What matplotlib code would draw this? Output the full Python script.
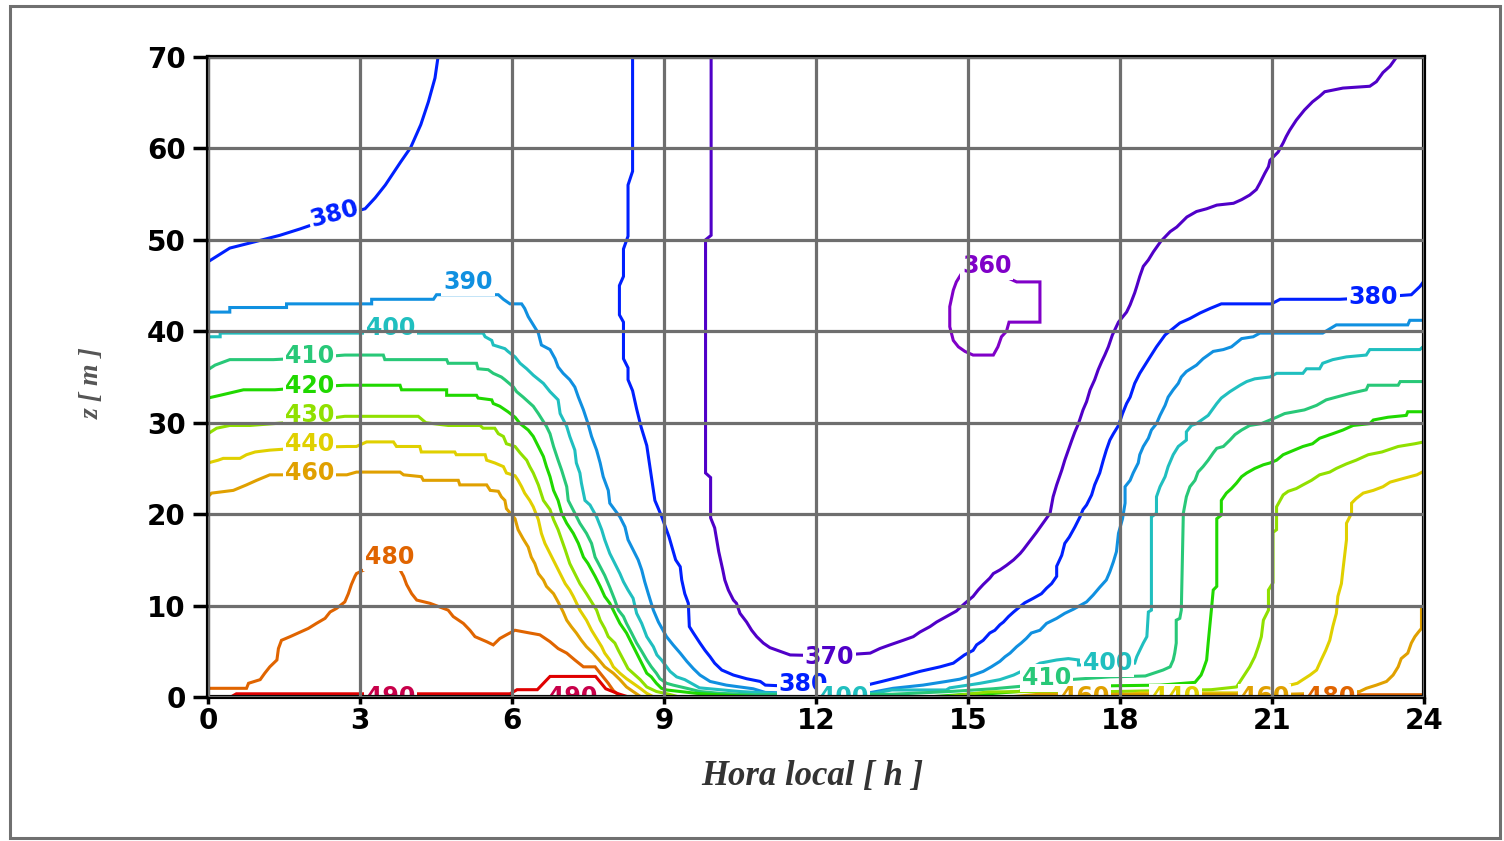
import numpy as np
import matplotlib
matplotlib.use("Agg")
import matplotlib.pyplot as plt
from matplotlib.patches import Rectangle

# ---- axes ticks -------------------------------------------------------------
hour_ticks = [0, 3, 6, 9, 12, 15, 18, 21, 24]
height_ticks = [0, 10, 20, 30, 40, 50, 60, 70]

# ---- isolines of CO2 concentration (local hour, height in m) ----------------
c360 = [(15.4, 46.8), (14.87, 46.3), (14.77, 45.4), (14.71, 44.5), (14.64, 42.7),
        (14.64, 40.5), (14.71, 39.0), (14.81, 38.3), (14.94, 37.8), (15.1, 37.4),
        (15.5, 37.4), (15.59, 38.3), (15.66, 39.4), (15.76, 40.0), (15.81, 41.0),
        (16.42, 41.0), (16.42, 45.4), (15.96, 45.4), (15.4, 46.8)]

c370 = [(9.93, 70), (9.93, 50.5), (9.82, 50.0), (9.82, 24.5), (9.92, 24.0), (9.92, 19.6),
        (10.0, 18.5), (10.08, 15.9), (10.16, 13.9), (10.2, 12.8), (10.27, 11.7),
        (10.37, 10.6), (10.43, 10.25), (10.5, 9.15), (10.63, 8.2), (10.73, 7.3),
        (10.83, 6.6), (10.96, 5.9), (11.09, 5.4), (11.29, 5.0), (11.49, 4.6),
        (12.26, 4.5), (13.07, 4.8), (13.26, 5.3), (13.46, 5.7), (13.72, 6.2),
        (13.92, 6.6), (14.05, 7.1), (14.25, 7.7), (14.38, 8.2), (14.51, 8.6),
        (14.64, 9.0), (14.77, 9.4), (14.94, 10.25), (15.1, 11.0), (15.2, 11.7),
        (15.3, 12.3), (15.43, 13.0), (15.5, 13.5), (15.63, 13.9), (15.76, 14.4),
        (15.9, 15.0), (16.03, 15.7), (16.09, 16.1), (16.35, 18.0), (16.62, 20.1),
        (16.68, 21.9), (16.75, 23.2), (16.85, 24.8), (16.91, 25.9), (16.98, 27.0),
        (17.05, 28.1), (17.11, 29.0), (17.18, 29.9), (17.27, 31.4), (17.34, 32.3),
        (17.41, 33.6), (17.5, 34.7), (17.57, 35.8), (17.64, 36.7), (17.7, 37.4),
        (17.77, 38.3), (17.85, 39.6), (17.97, 41.0), (18.13, 42.1), (18.2, 42.9),
        (18.29, 44.2), (18.33, 44.9), (18.39, 46.0), (18.46, 47.1), (18.56, 47.8),
        (18.66, 48.7), (18.8, 49.8), (18.99, 50.9), (19.12, 51.4), (19.32, 52.5),
        (19.51, 53.1), (19.71, 53.4), (19.91, 53.8), (20.24, 54.0), (20.4, 54.4),
        (20.56, 54.9), (20.69, 55.5), (20.76, 56.2), (20.86, 57.3), (20.93, 58.0),
        (20.96, 58.7), (21.12, 59.6), (21.22, 60.6), (21.28, 61.3), (21.35, 62.0),
        (21.48, 63.1), (21.64, 64.2), (21.8, 65.1), (21.94, 65.7), (22.04, 66.2),
        (22.4, 66.6), (22.93, 66.8), (23.06, 67.3), (23.19, 68.3), (23.33, 69.0),
        (23.46, 70)]

c380_morning = [(0.0, 47.6), (0.43, 49.1), (0.93, 49.8), (1.42, 50.5), (1.82, 51.2),
                (2.5, 52.5), (3.1, 53.4), (3.3, 54.6), (3.5, 56.0), (3.8, 58.5),
                (4.0, 60.1), (4.2, 62.6), (4.35, 65.1), (4.48, 67.7), (4.54, 70)]

c380_day = [(8.38, 70), (8.38, 57.5), (8.29, 56.0), (8.29, 50.4), (8.2, 49.0), (8.2, 46.0),
            (8.12, 45.0), (8.12, 41.8), (8.2, 41.0), (8.2, 37.0), (8.29, 36.0),
            (8.29, 34.7), (8.38, 33.5), (8.46, 31.5), (8.55, 29.5), (8.66, 27.5),
            (8.74, 24.5), (8.82, 21.5), (8.95, 19.8), (9.1, 17.5), (9.23, 15.0),
            (9.32, 14.25), (9.35, 12.8), (9.41, 11.3), (9.48, 10.25), (9.5, 7.7),
            (9.58, 7.0), (9.71, 5.9), (9.81, 5.1), (9.91, 4.4), (10.0, 3.7),
            (10.14, 2.95), (10.37, 2.4), (10.63, 2.0), (10.9, 1.7), (11.0, 1.3),
            (11.4, 1.2), (12.6, 1.1), (13.0, 1.3), (13.3, 1.7), (13.66, 2.2),
            (14.05, 2.8), (14.45, 3.3), (14.71, 3.7), (14.93, 4.6), (15.1, 5.1),
            (15.17, 5.7), (15.3, 6.2), (15.43, 7.0), (15.53, 7.3), (15.63, 7.9),
            (15.7, 8.2), (15.8, 8.8), (15.9, 9.3), (16.03, 9.9), (16.12, 10.3),
            (16.29, 10.8), (16.45, 11.3), (16.55, 11.9), (16.65, 12.4), (16.75, 13.2),
            (16.75, 14.3), (16.85, 15.5), (16.91, 16.8), (17.0, 17.5), (17.11, 18.6),
            (17.21, 19.7), (17.27, 20.5), (17.34, 21.0), (17.44, 22.1), (17.5, 23.2),
            (17.6, 24.5), (17.67, 25.9), (17.73, 27.0), (17.8, 28.1), (17.87, 28.8),
            (17.97, 29.7), (18.05, 31.0), (18.13, 32.1), (18.2, 32.8), (18.29, 34.3),
            (18.39, 35.4), (18.56, 36.9), (18.72, 38.3), (18.89, 39.6), (19.18, 40.9),
            (19.38, 41.4), (19.58, 42.0), (19.78, 42.5), (20.0, 43.0), (20.99, 43.0),
            (21.16, 43.5), (22.34, 43.5), (23.0, 43.7), (23.75, 44.0), (23.92, 44.9),
            (24.0, 45.5)]

c390 = [(0.0, 42.1), (0.43, 42.1), (0.43, 42.6), (1.55, 42.6), (1.55, 43.0), (3.23, 43.0),
        (3.23, 43.5), (4.45, 43.5), (4.51, 44.0), (5.13, 44.0), (5.73, 44.0), (5.83, 43.5),
        (5.96, 43.0), (6.19, 43.0), (6.25, 42.5), (6.32, 41.6), (6.42, 40.7), (6.52, 39.8),
        (6.58, 38.5), (6.75, 38.0), (6.85, 37.0), (6.91, 36.1), (7.01, 35.4), (7.14, 34.7),
        (7.24, 33.9), (7.31, 32.8), (7.41, 31.4), (7.5, 29.9), (7.57, 28.5), (7.67, 27.0),
        (7.74, 25.6), (7.8, 24.1), (7.9, 22.6), (7.93, 21.2), (8.13, 19.7), (8.23, 18.6),
        (8.29, 17.2), (8.39, 16.1), (8.49, 15.0), (8.56, 13.9), (8.62, 12.6), (8.69, 11.3),
        (8.79, 9.5), (8.89, 8.2), (9.05, 6.6), (9.18, 5.7), (9.32, 4.8), (9.45, 3.9),
        (9.58, 3.1), (9.71, 2.4), (9.91, 1.7), (10.23, 1.3), (10.76, 0.9), (11.0, 0.5),
        (12.0, 0.35), (13.0, 0.4), (13.52, 0.95), (14.11, 1.3), (14.57, 1.7),
        (14.84, 1.95), (15.1, 2.4), (15.3, 2.8), (15.46, 3.3), (15.63, 3.9), (15.73, 4.4),
        (15.83, 4.8), (15.96, 5.5), (16.05, 5.9), (16.15, 6.4), (16.25, 7.0), (16.42, 7.3),
        (16.55, 8.05), (16.75, 8.6), (16.91, 9.15), (17.08, 9.6), (17.34, 10.4),
        (17.47, 11.15), (17.6, 12.0), (17.73, 12.8), (17.8, 13.7), (17.87, 14.8),
        (17.93, 15.9), (17.97, 17.9), (18.05, 19.5), (18.1, 21.2), (18.1, 23.0),
        (18.2, 23.7), (18.26, 24.5), (18.36, 25.6), (18.39, 26.5), (18.46, 27.4),
        (18.56, 28.3), (18.62, 29.2), (18.72, 29.9), (18.79, 30.8), (18.89, 31.9),
        (18.95, 32.8), (19.05, 33.6), (19.15, 34.3), (19.21, 35.0), (19.31, 35.6),
        (19.51, 36.3), (19.64, 37.0), (19.84, 37.8), (20.04, 38.0), (20.2, 38.3),
        (20.4, 39.2), (20.63, 39.4), (20.76, 39.8), (22.0, 39.8), (22.27, 40.7),
        (23.68, 40.7), (23.72, 41.2), (24.0, 41.2)]

c400 = [(0.0, 39.4), (0.24, 39.4), (0.24, 39.8), (1.22, 39.8), (3.6, 39.8), (5.43, 39.8),
        (5.47, 39.4), (5.6, 39.0), (5.63, 38.5), (5.86, 38.1), (5.92, 37.8), (6.06, 37.2),
        (6.16, 36.5), (6.29, 35.9), (6.42, 35.2), (6.62, 34.3), (6.75, 33.4), (6.91, 32.5),
        (6.95, 31.0), (7.08, 29.6), (7.14, 28.5), (7.24, 27.0), (7.27, 25.6), (7.34, 24.5),
        (7.37, 23.4), (7.44, 21.5), (7.54, 21.0), (7.67, 19.7), (7.77, 18.3), (7.83, 17.2),
        (7.93, 15.7), (8.03, 14.6), (8.13, 13.5), (8.2, 12.6), (8.29, 11.7), (8.39, 10.8),
        (8.46, 9.15), (8.56, 8.05), (8.66, 6.6), (8.79, 5.5), (8.86, 4.6), (8.95, 4.05),
        (9.12, 2.8), (9.25, 2.2), (9.41, 1.9), (9.7, 1.0), (10.5, 0.6), (11.5, 0.3),
        (13.13, 0.4), (13.5, 0.77), (14.57, 0.77), (14.64, 1.0), (15.24, 1.5),
        (15.63, 1.9), (15.9, 2.4), (16.05, 2.8), (16.22, 3.1), (16.42, 3.7), (16.75, 4.05),
        (16.98, 4.2), (17.18, 4.05), (17.18, 3.5), (17.7, 3.5), (18.29, 3.7), (18.33, 4.4),
        (18.39, 5.1), (18.46, 5.9), (18.53, 6.6), (18.56, 9.3), (18.62, 9.5),
        (18.62, 19.7), (18.72, 20.1), (18.72, 21.9), (18.79, 23.0), (18.89, 24.1),
        (18.95, 25.2), (19.05, 26.5), (19.15, 27.4), (19.31, 28.1), (19.31, 29.0),
        (19.41, 29.7), (19.51, 29.9), (19.74, 30.8), (19.91, 32.1), (20.0, 32.7),
        (20.17, 33.4), (20.37, 34.1), (20.5, 34.5), (20.66, 34.8), (20.96, 35.0),
        (21.09, 35.4), (21.61, 35.4), (21.68, 35.9), (21.94, 35.9), (22.0, 36.5),
        (22.2, 36.9), (22.47, 37.2), (22.86, 37.4), (22.93, 38.0), (23.92, 38.0),
        (24.0, 38.4)]

c410 = [(0.0, 35.8), (0.14, 36.3), (0.43, 36.9), (1.29, 36.9), (2.0, 37.1), (2.7, 37.4),
        (3.46, 37.4), (3.49, 36.9), (4.71, 36.9), (4.74, 36.5), (5.3, 36.5), (5.33, 35.9),
        (5.53, 35.8), (5.63, 35.4), (5.79, 35.0), (5.86, 34.7), (6.03, 33.9), (6.09, 33.4),
        (6.22, 32.8), (6.32, 32.3), (6.42, 31.8), (6.52, 31.0), (6.68, 29.6), (6.75, 28.8),
        (6.82, 27.4), (6.91, 25.9), (6.98, 24.8), (7.08, 23.0), (7.11, 21.5), (7.24, 20.1),
        (7.34, 19.0), (7.47, 17.9), (7.57, 16.8), (7.64, 15.3), (7.74, 14.25),
        (7.83, 13.3), (7.93, 12.0), (8.03, 10.6), (8.1, 9.5), (8.2, 8.8), (8.26, 8.05),
        (8.36, 7.0), (8.46, 5.9), (8.56, 5.0), (8.66, 4.05), (8.75, 3.3), (8.85, 2.6),
        (8.92, 2.0), (9.05, 1.5), (9.18, 1.3), (9.45, 0.95), (9.71, 0.6), (10.1, 0.4),
        (10.8, 0.25), (13.5, 0.3), (14.64, 0.6), (15.5, 0.9), (16.3, 1.3), (17.0, 1.9),
        (17.8, 2.2), (18.5, 2.3), (18.85, 2.95), (18.99, 3.3), (19.05, 4.05),
        (19.08, 4.8), (19.11, 5.9), (19.11, 8.4), (19.18, 8.6), (19.21, 9.5),
        (19.25, 20.1), (19.31, 21.9), (19.38, 23.0), (19.48, 23.7), (19.54, 24.6),
        (19.64, 25.2), (19.74, 25.9), (19.84, 26.7), (19.91, 27.2), (20.04, 27.4),
        (20.17, 28.1), (20.27, 28.7), (20.4, 29.2), (20.56, 29.7), (20.79, 29.9),
        (21.09, 30.6), (21.25, 31.0), (21.64, 31.4), (21.88, 31.9), (22.07, 32.5),
        (22.27, 32.8), (22.54, 33.2), (22.86, 33.6), (22.9, 34.1), (23.49, 34.1),
        (23.53, 34.5), (24.0, 34.5)]

c420_morning = [(0.0, 32.7), (0.24, 33.0), (0.7, 33.6), (1.32, 33.6), (2.0, 33.9),
                (2.7, 34.1), (3.79, 34.1), (3.82, 33.6), (4.71, 33.6), (4.71, 33.0),
                (5.3, 33.0), (5.33, 32.7), (5.6, 32.5), (5.63, 32.1), (5.76, 31.8),
                (5.92, 31.2), (6.06, 30.6), (6.16, 29.9), (6.32, 29.2), (6.42, 28.5),
                (6.52, 27.4), (6.62, 26.3), (6.68, 25.2), (6.75, 24.1), (6.82, 22.6),
                (6.91, 21.5), (6.98, 20.1), (7.08, 19.0), (7.21, 17.9), (7.31, 16.8),
                (7.41, 15.3), (7.5, 14.6), (7.64, 13.2), (7.74, 12.1), (7.83, 11.0),
                (7.93, 10.25), (8.03, 9.15), (8.13, 8.05), (8.26, 7.0), (8.36, 5.9),
                (8.46, 4.8), (8.56, 3.7), (8.66, 2.6), (8.75, 2.2), (8.85, 1.5),
                (8.95, 0.95), (9.05, 0.77), (9.32, 0.6), (9.64, 0.4), (10.2, 0.2),
                (11.0, 0.0)]

c420_evening = [(14.2, 0.0), (15.1, 0.35), (15.4, 0.35), (16.0, 0.6), (16.2, 1.0),
                (17.5, 1.2), (18.8, 1.3), (19.48, 1.6), (19.6, 2.4), (19.64, 2.95),
                (19.71, 4.05), (19.74, 5.9), (19.81, 9.9), (19.84, 11.7), (19.91, 12.1),
                (19.91, 19.5), (20.0, 19.9), (20.0, 21.5), (20.1, 22.3), (20.2, 22.8),
                (20.3, 23.4), (20.4, 24.1), (20.5, 24.5), (20.66, 25.0), (20.83, 25.4),
                (20.96, 25.6), (21.09, 25.9), (21.22, 26.5), (21.35, 26.8), (21.61, 27.4),
                (21.8, 27.7), (21.94, 28.3), (22.2, 28.8), (22.4, 29.2), (22.6, 29.7),
                (22.93, 29.9), (23.0, 30.3), (23.29, 30.6), (23.65, 30.8), (23.68, 31.2),
                (24.0, 31.2)]

c430_morning = [(0.0, 28.8), (0.17, 29.4), (0.43, 29.7), (0.83, 29.7), (2.0, 30.2),
                (2.7, 30.7), (4.15, 30.7), (4.3, 30.0), (4.74, 29.7), (5.37, 29.7),
                (5.43, 29.4), (5.66, 29.4), (5.73, 28.8), (5.83, 28.5), (5.89, 27.7),
                (6.06, 27.4), (6.16, 26.7), (6.29, 25.9), (6.35, 25.2), (6.42, 24.5),
                (6.52, 23.2), (6.62, 21.5), (6.75, 20.5), (6.82, 19.4), (6.91, 18.3),
                (6.98, 17.2), (7.05, 16.1), (7.14, 14.6), (7.24, 13.5), (7.34, 12.4),
                (7.47, 11.3), (7.57, 10.4), (7.67, 9.5), (7.74, 8.4), (7.83, 7.5),
                (7.9, 6.6), (8.03, 5.9), (8.1, 5.1), (8.2, 4.05), (8.29, 3.1),
                (8.39, 2.6), (8.53, 1.9), (8.66, 1.1), (8.85, 0.6), (9.1, 0.3), (9.3, 0.0)]

c430_evening = [(14.5, 0.0), (15.4, 0.55), (16.2, 0.6), (17.9, 0.6), (19.8, 0.8),
                (20.3, 1.1), (20.43, 2.2), (20.56, 3.3), (20.66, 4.4), (20.73, 5.5),
                (20.79, 6.6), (20.83, 8.4), (20.93, 9.5), (20.93, 11.7), (21.02, 12.5),
                (21.02, 18.0), (21.09, 18.3), (21.09, 20.8), (21.16, 21.5), (21.22, 22.1),
                (21.32, 22.5), (21.48, 22.8), (21.61, 23.2), (21.78, 23.7), (21.94, 24.3),
                (22.14, 24.6), (22.27, 25.0), (22.47, 25.5), (22.66, 25.9), (22.9, 26.5),
                (23.17, 26.8), (23.49, 27.4), (23.82, 27.7), (24.0, 27.9)]

c440_morning = [(0.0, 25.6), (0.2, 25.9), (0.3, 26.1), (0.63, 26.1), (0.76, 26.5),
                (0.93, 26.8), (1.22, 27.0), (2.0, 27.3), (2.74, 27.4), (2.93, 27.4),
                (3.13, 27.9), (3.66, 27.9), (3.72, 27.4), (4.18, 27.4), (4.21, 26.8),
                (4.87, 26.8), (4.9, 26.5), (5.47, 26.5), (5.5, 25.9), (5.66, 25.6),
                (5.83, 25.2), (5.89, 24.5), (6.06, 24.2), (6.12, 23.7), (6.19, 23.0),
                (6.25, 22.3), (6.35, 21.5), (6.42, 20.8), (6.52, 19.4), (6.58, 17.9),
                (6.65, 16.8), (6.75, 15.7), (6.85, 14.6), (6.95, 13.5), (7.05, 12.4),
                (7.14, 11.7), (7.21, 11.0), (7.34, 9.5), (7.47, 8.4), (7.57, 7.3),
                (7.67, 6.4), (7.77, 5.5), (7.83, 4.8), (7.93, 4.05), (8.0, 3.3),
                (8.13, 2.6), (8.26, 2.0), (8.39, 1.5), (8.53, 0.95), (8.66, 0.4), (8.8, 0.0)]

c440_evening = [(17.8, 0.0), (18.4, 0.45), (20.3, 0.45), (21.0, 0.8), (21.5, 1.5),
                (21.61, 1.9), (21.75, 2.4), (21.88, 2.95), (21.97, 4.05), (22.06, 5.1),
                (22.14, 6.2), (22.2, 7.7), (22.27, 9.15), (22.3, 11.0), (22.37, 12.4),
                (22.4, 13.9), (22.47, 17.2), (22.47, 19.0), (22.57, 20.1), (22.57, 21.2),
                (22.66, 21.7), (22.8, 22.3), (23.0, 22.6), (23.19, 23.0), (23.33, 23.5),
                (23.59, 23.9), (23.86, 24.3), (24.0, 24.7)]

c460_morning = [(0.0, 21.9), (0.07, 22.3), (0.5, 22.6), (0.76, 23.2), (0.96, 23.7),
                (1.22, 24.3), (2.0, 24.3), (2.74, 24.3), (2.93, 24.6), (3.79, 24.6),
                (3.86, 24.3), (4.21, 24.1), (4.25, 23.7), (4.94, 23.7), (4.97, 23.2),
                (5.5, 23.2), (5.57, 22.6), (5.73, 22.5), (5.79, 21.9), (5.86, 21.5),
                (5.89, 20.6), (6.06, 19.5), (6.12, 18.3), (6.22, 17.3), (6.32, 16.4),
                (6.38, 15.3), (6.45, 14.6), (6.52, 13.5), (6.62, 12.8), (6.68, 12.1),
                (6.82, 11.3), (6.91, 10.4), (7.01, 9.3), (7.08, 8.4), (7.17, 7.7),
                (7.27, 7.0), (7.37, 6.2), (7.47, 5.5), (7.6, 4.8), (7.74, 3.9),
                (7.83, 3.3), (8.0, 2.6), (8.13, 1.9), (8.26, 1.1), (8.39, 0.6), (8.55, 0.0)]

c460_evening = [(15.8, 0.0), (16.4, 0.3), (20.5, 0.3), (21.1, 0.4), (21.3, 0.3),
                (22.5, 0.5), (22.73, 0.6), (22.86, 0.95), (23.06, 1.3), (23.26, 1.7),
                (23.39, 2.4), (23.49, 3.3), (23.55, 4.2), (23.68, 4.8), (23.75, 5.9),
                (23.82, 6.6), (23.89, 7.1), (23.95, 7.5), (23.95, 9.7), (24.0, 9.8)]

c480_morning = [(0.0, 0.95), (0.76, 0.95), (0.8, 1.5), (1.03, 1.9), (1.12, 2.6),
                (1.22, 3.3), (1.36, 4.05), (1.39, 5.3), (1.45, 6.2), (1.62, 6.6),
                (1.82, 7.1), (1.98, 7.5), (2.14, 8.05), (2.31, 8.6), (2.41, 9.3),
                (2.54, 9.7), (2.7, 10.4), (2.77, 11.3), (2.83, 12.3), (2.9, 13.2),
                (2.93, 13.5), (3.59, 15.3), (3.79, 13.9), (3.86, 13.2), (3.92, 12.3),
                (4.02, 11.3), (4.12, 10.6), (4.38, 10.25), (4.74, 9.5), (4.84, 8.8),
                (5.04, 8.05), (5.17, 7.3), (5.27, 6.6), (5.5, 6.05), (5.63, 5.7),
                (5.76, 6.4), (5.89, 6.8), (6.06, 7.3), (6.35, 7.0), (6.55, 6.8),
                (6.75, 6.05), (6.91, 5.3), (7.08, 4.8), (7.24, 4.05), (7.41, 3.3),
                (7.64, 3.3), (7.9, 1.5), (8.0, 0.7), (8.15, 0.0)]

c480_evening = [(21.5, 0.0), (21.7, 0.25), (24.0, 0.25)]

c500 = [(0.45, 0.0), (0.56, 0.35), (2.87, 0.35), (4.25, 0.35), (5.96, 0.35), (6.1, 0.8),
        (6.5, 0.8), (6.75, 2.25), (7.65, 2.25), (7.85, 0.9), (8.1, 0.35), (8.3, 0.0)]

isolines = [
    (360, c360), (370, c370), (380, c380_morning), (380, c380_day),
    (390, c390), (400, c400), (410, c410),
    (420, c420_morning), (420, c420_evening),
    (430, c430_morning), (430, c430_evening),
    (440, c440_morning), (440, c440_evening),
    (460, c460_morning), (460, c460_evening),
    (480, c480_morning), (480, c480_evening), (500, c500),
]

level_colors = {
    360: "#8000C8", 370: "#5000C8", 380: "#0020FF", 390: "#1090E0",
    400: "#20BFBF", 410: "#28C878", 420: "#20D800", 430: "#90E000",
    440: "#E0D000", 460: "#E0A000", 480: "#E06400", 490: "#C8004A",
    500: "#E00000",
}

# inline labels: (level, hour, height, rotation)
label_spots = [
    (380, 2.5, 52.8, 15), (390, 5.13, 45.4, 0), (400, 3.6, 40.4, 0),
    (410, 2.0, 37.3, 0), (420, 2.0, 34.0, 0), (430, 2.0, 30.8, 0),
    (440, 2.0, 27.7, 0), (460, 2.0, 24.5, 0), (480, 3.59, 15.3, 0),
    (370, 12.26, 4.4, 0), (360, 15.37, 47.1, 0), (380, 23.0, 43.8, 0),
    (380, 11.75, 1.4, 0), (410, 16.55, 2.1, 0), (400, 17.75, 3.75, 0),
    (400, 12.55, 0.05, 0), (490, 3.6, 0.05, 0), (490, 7.2, 0.05, 0),
    (460, 17.3, -0.05, 0), (440, 19.1, -0.05, 0), (460, 20.85, -0.05, 0),
    (480, 22.15, -0.05, 0),
]

# ---- figure -----------------------------------------------------------------
fig = plt.figure(figsize=(15.04, 8.41), dpi=100)
ax = fig.add_axes([208 / 1504, 1 - 697 / 841, (1424 - 208) / 1504, (697 - 57) / 841])

for level, pts in isolines:
    arr = np.array(pts, dtype=float)
    ax.plot(arr[:, 0], arr[:, 1], color=level_colors[level], lw=2.2,
            solid_joinstyle="miter", zorder=2)

for level, h, z, rot in label_spots:
    ax.text(h, z, f"{level}", color=level_colors[level], fontsize=17,
            fontweight="bold", ha="center", va="center", rotation=rot,
            rotation_mode="anchor", zorder=2.2, clip_on=True,
            bbox=dict(boxstyle="square,pad=0.08", fc="white", ec="none"))

ax.set_xlim(0, 24)
ax.set_ylim(0, 70)
ax.set_xticks(hour_ticks)
ax.set_yticks(height_ticks)
ax.set_axisbelow(False)
ax.grid(True, color="#6e6e6e", lw=2.3)
for side in ax.spines.values():
    side.set_linewidth(3)
    side.set_color("black")
ax.tick_params(axis="y", direction="out", length=10.5, width=2.5, pad=5.5,
               labelsize=20)
ax.tick_params(axis="x", direction="out", length=5, width=2.5, pad=2.5,
               labelsize=20)
for lab in ax.get_xticklabels() + ax.get_yticklabels():
    lab.set_fontweight("bold")

fig.text(812 / 1504, 1 - 776 / 841, "Hora local [ h ]", ha="center", va="center",
         fontsize=25, family="Liberation Serif", style="italic", weight="bold",
         color="#333333")
fig.text(92 / 1504, 1 - 383 / 841, "z [ m ]", ha="center", va="center",
         rotation=90, fontsize=20, family="Liberation Serif", style="italic",
         weight="bold", color="#555555")

fig.add_artist(Rectangle((9.5 / 1504, 3.5 / 841), (1499.5 - 9.5) / 1504,
                         832 / 841, transform=fig.transFigure,
                         fill=False, ec="#707070", lw=2.2))

fig.savefig("out.png", dpi=100)
